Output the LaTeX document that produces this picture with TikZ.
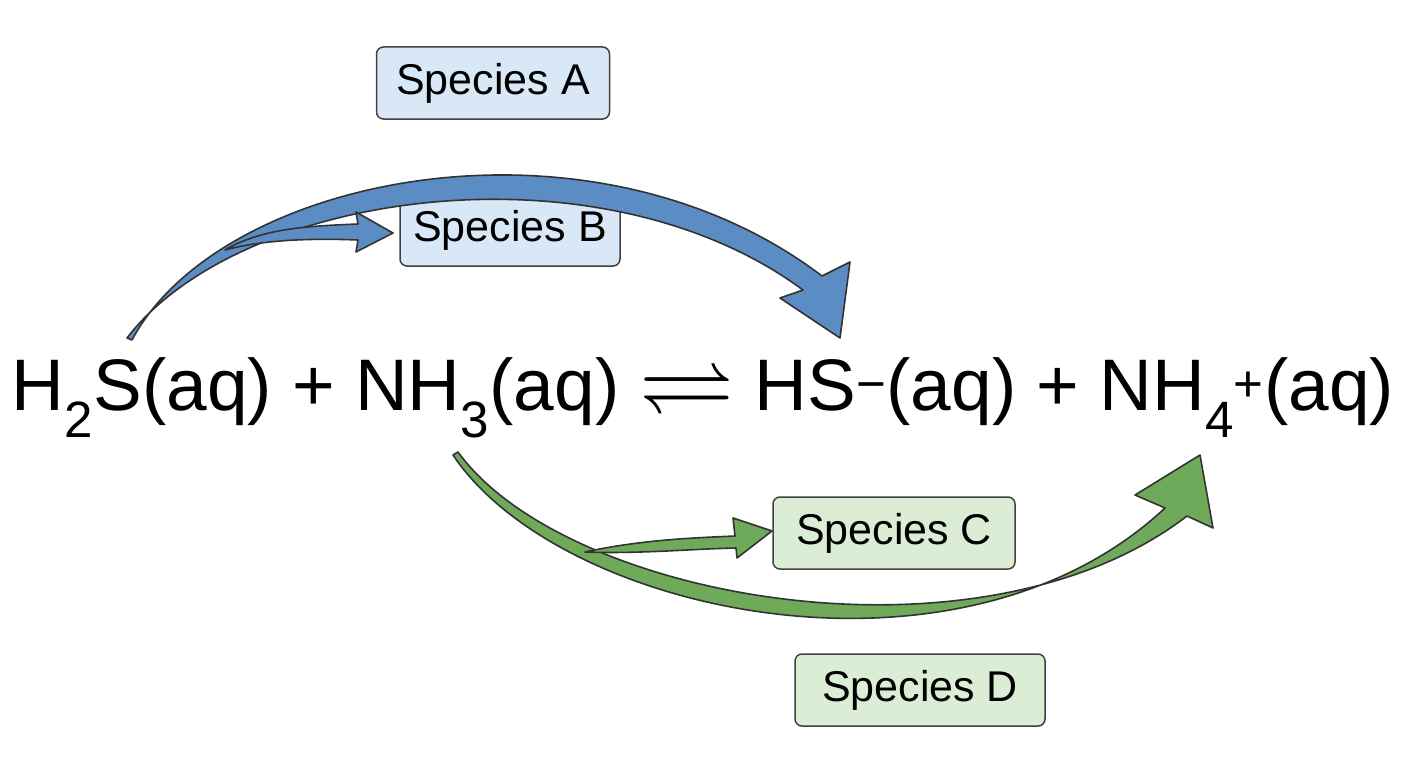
\documentclass[tikz,border=0pt]{standalone}
\usepackage{fontspec}
\setmainfont{Liberation Sans}
\usepackage{amsmath,amssymb}
\begin{document}
\begin{tikzpicture}[x=1pt,y=-1pt,
  box/.style={draw=black!75,line width=1.5pt,rounded corners=7pt,minimum height=72pt,inner xsep=12pt,font=\fontsize{43}{48}\selectfont},
  bluebox/.style={box,fill={rgb,255:red,217;green,232;blue,246}},
  greenbox/.style={box,fill={rgb,255:red,220;green,237;blue,214}},
  barrow/.style={fill={rgb,255:red,92;green,140;blue,196},draw=black!80,line width=1.6pt,line join=round},
  garrow/.style={fill={rgb,255:red,110;green,170;blue,90},draw=black!80,line width=1.6pt,line join=round}]
\useasboundingbox (0,0) rectangle (1408,768);
\node[bluebox,minimum width=233pt] (A) at (493,83) {Species A};
\node[bluebox,minimum width=220pt] (B) at (510,230) {Species B};
\node[greenbox,minimum width=242pt] (C) at (894,533) {Species C};
\node[greenbox,minimum width=250pt] (D) at (920,690) {Species D};
\node (eq) at (703,398) {\fontsize{73}{84}\selectfont H\textsubscript{2}S(aq) + NH\textsubscript{3}(aq) \raisebox{-2pt}{\scalebox{1.3}{$\rightleftharpoons$}} HS\textsuperscript{−}(aq) + NH\textsubscript{4}\textsuperscript{+}(aq)};
% big blue arrow
\draw[barrow] (132,340) .. controls (220,175) and (590,100) .. (822,276) -- (850,262) -- (840,338) -- (780,298) -- (803,290) .. controls (600,140) and (240,190) .. (127,338) -- cycle;
% small blue arrow
\draw[barrow] (225,250) .. controls (262,228) and (310,226) .. (358,224) -- (356,212) -- (393,233) -- (356,252) -- (358,240) .. controls (310,238) and (262,240) .. (225,250) -- cycle;
% big green arrow
\draw[garrow] (453,455) .. controls (560,615) and (960,700) .. (1165,508) -- (1135,495) -- (1200,455) -- (1213,528) -- (1187,516) .. controls (980,675) and (565,600) .. (458,452) -- cycle;
% small green arrow
\draw[garrow] (585,552) .. controls (640,540) and (690,538) .. (735,536) -- (733,518) -- (772,531) -- (737,558) -- (736,548) .. controls (690,549) and (640,554) .. (585,552) -- cycle;
\end{tikzpicture}
\end{document}
